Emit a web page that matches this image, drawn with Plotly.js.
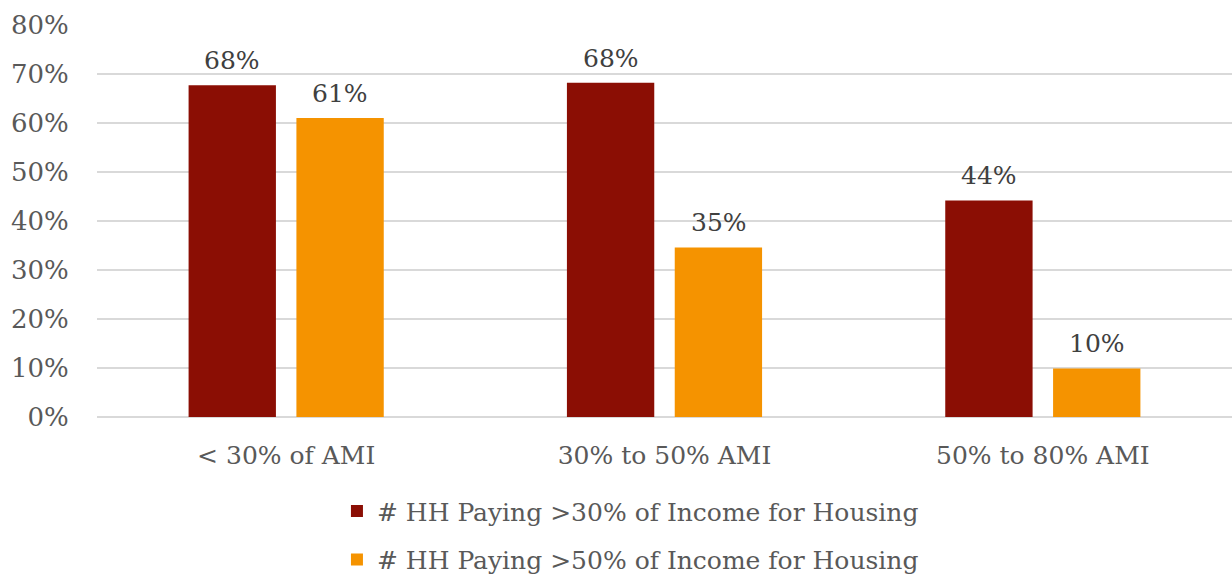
<!DOCTYPE html>
<html>
<head>
<meta charset="utf-8">
<script src="https://cdn.plot.ly/plotly-3.0.1.min.js"></script>
<style>html,body{margin:0;padding:0;background:#fff;}#chart{width:1232px;height:575px;}</style>
</head>
<body>
<div id="chart"></div>
<script>
const categories = ["< 30% of AMI", "30% to 50% AMI", "50% to 80% AMI"];
const seriesNames = ["# HH Paying >30% of Income for Housing", "# HH Paying >50% of Income for Housing"];
const paying30 = [0.677, 0.682, 0.442];
const paying50 = [0.610, 0.346, 0.099];
const yTickVals = [0, 0.1, 0.2, 0.3, 0.4, 0.5, 0.6, 0.7, 0.8];
const colors = ["#8B0E04", "#F59300"];

const FONT = "DejaVu Serif, Liberation Serif, serif";
const series = [paying30, paying50];

const traces = series.map((vals, i) => ({
  type: "bar",
  name: seriesNames[i],
  x: categories,
  y: vals,
  marker: {color: colors[i]},
  legendgroup: "g" + i,
  hoverinfo: "skip"
}));

// data labels placed above each bar via the axis scales
const annotations = [];
series.forEach((vals, i) => {
  vals.forEach((v, k) => {
    annotations.push({
      xref: "x", yref: "y",
      x: categories[k], y: v,
      text: Math.round(v * 100) + "%",
      showarrow: false,
      xanchor: "center", yanchor: "bottom",
      xshift: i === 0 ? -54 : 54,
      yshift: 8,
      font: {family: FONT, size: 25, color: "#404040"}
    });
  });
});

const layout = {
  width: 1232, height: 575,
  margin: {l: 97, r: 0, t: 25, b: 158, autoexpand: false},
  paper_bgcolor: "#fff", plot_bgcolor: "#fff",
  barmode: "group",
  bargap: 0.43,
  bargroupgap: 0.19,
  font: {family: FONT, color: "#595959"},
  annotations: annotations,
  xaxis: {
    type: "category",
    showgrid: false, zeroline: false, showline: false,
    ticks: "outside", ticklen: 16, tickcolor: "rgba(0,0,0,0)",
    tickfont: {family: FONT, size: 25, color: "#595959"}
  },
  yaxis: {
    range: [0, 0.8],
    tickvals: yTickVals,
    tickformat: ".0%",
    showgrid: true, gridcolor: "#D9D9D9", gridwidth: 1.5,
    zeroline: true, zerolinecolor: "#D9D9D9", zerolinewidth: 1.5,
    showline: false,
    ticks: "outside", ticklen: 22, tickcolor: "rgba(0,0,0,0)",
    tickfont: {family: FONT, size: 26, color: "#595959"}
  },
  showlegend: true,
  legend: {
    orientation: "v",
    x: 0.47, xanchor: "center", xref: "paper",
    y: -0.182, yanchor: "top",
    font: {family: FONT, size: 25, color: "#595959"},
    tracegroupgap: 13,
    traceorder: "grouped"
  }
};

Plotly.newPlot("chart", traces, layout, {displayModeBar: false, staticPlot: true});
</script>
</body>
</html>
